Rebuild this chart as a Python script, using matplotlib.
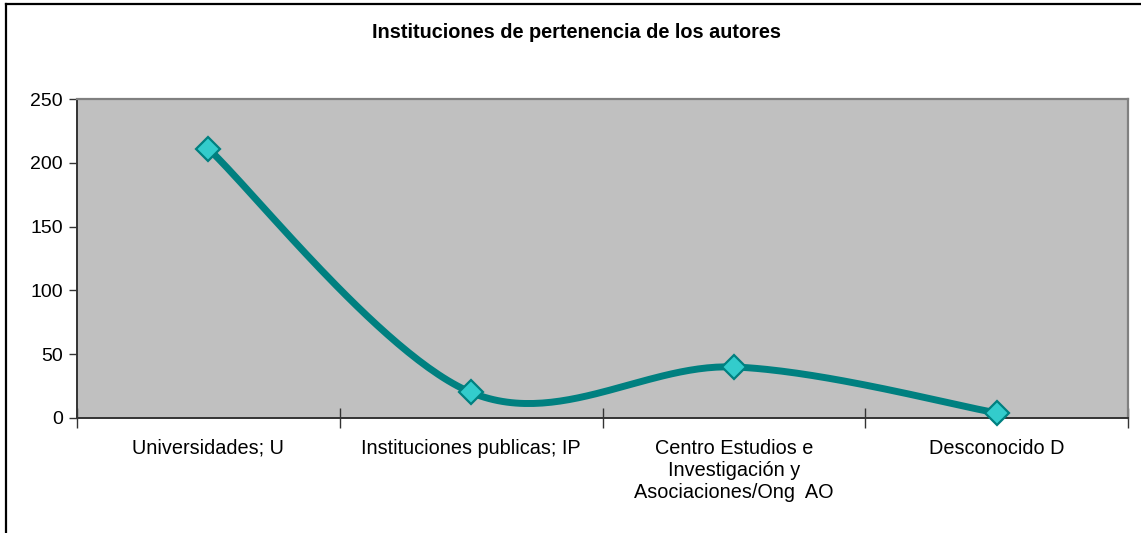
import numpy as np
import matplotlib
matplotlib.use("Agg")
import matplotlib.pyplot as plt
from matplotlib.lines import Line2D

plt.rcParams['font.family'] = ['Liberation Sans', 'DejaVu Sans']

title = "Instituciones de pertenencia de los autores"
categories = ["Universidades; U", "Instituciones publicas; IP",
              "Centro Estudios e\nInvestigación y\nAsociaciones/Ong  AO", "Desconocido D"]
values = [211, 20, 40, 4]
yticks = [0, 50, 100, 150, 200, 250]

W, H = 1141, 533
fig = plt.figure(figsize=(W / 100, H / 100), dpi=100)
fig.patch.set_facecolor('white')

# outer chart frame (left and top edges visible)
fig.add_artist(Line2D([6 / W, 6 / W], [0, 1 - 4 / H], transform=fig.transFigure, color='black', lw=1.6))
fig.add_artist(Line2D([6 / W, 1], [1 - 4 / H, 1 - 4 / H], transform=fig.transFigure, color='black', lw=1.6))

L, R, T, B = 77, 1128, 99, 418
ax = fig.add_axes([L / W, 1 - B / H, (R - L) / W, (B - T) / H])
ax.set_facecolor('#C0C0C0')

x = np.arange(1, len(values) + 1, dtype=float)
y = np.array(values, dtype=float)

# Excel-like smoothed line (Bezier with Catmull-Rom style control points)
pts = np.column_stack([x, y])
n = len(pts)
curve = []
t = np.linspace(0, 1, 60)
for i in range(n - 1):
    p0 = pts[max(i - 1, 0)]
    p1 = pts[i]
    p2 = pts[i + 1]
    p3 = pts[min(i + 2, n - 1)]
    c1 = p1 + (p2 - p0) / 6.0
    c2 = p2 - (p3 - p1) / 6.0
    seg = ((1 - t) ** 3)[:, None] * p1 + (3 * (1 - t) ** 2 * t)[:, None] * c1 \
        + (3 * (1 - t) * t ** 2)[:, None] * c2 + (t ** 3)[:, None] * p2
    curve.append(seg)
curve = np.vstack(curve)
ax.plot(curve[:, 0], curve[:, 1], color='#008080', lw=5.0, solid_capstyle='round', zorder=3)
ax.plot(x, y, linestyle='none', marker='D', markersize=12.5, markerfacecolor='#33CCCC',
        markeredgecolor='#008080', markeredgewidth=1.6, zorder=4, clip_on=False)

ax.set_xlim(0.5, len(values) + 0.5)
ax.set_ylim(0, 250)
ax.set_yticks(yticks)
ax.set_yticklabels([str(v) for v in yticks], fontsize=14)
ax.set_xticks(np.arange(0.5, len(values) + 1, 1.0))
ax.set_xticklabels([])
ax.set_xticks(x, minor=True)
ax.set_xticklabels(categories, minor=True, fontsize=14.3, linespacing=1.2)
ax.tick_params(axis='x', which='major', direction='inout', length=14, width=1.0, color='#333333')
ax.tick_params(axis='x', which='minor', length=0, pad=15)
ax.tick_params(axis='y', direction='out', length=6, width=1.0, color='#333333', pad=4)

for s in ['left', 'bottom']:
    ax.spines[s].set_color('#333333')
    ax.spines[s].set_linewidth(1.4)
for s in ['top', 'right']:
    ax.spines[s].set_color('#808080')
    ax.spines[s].set_linewidth(1.6)

fig.text(577 / W, 1 - 33 / H, title, ha='center', va='center', fontsize=14.3, fontweight='bold')

fig.savefig('out.png', dpi=100)
